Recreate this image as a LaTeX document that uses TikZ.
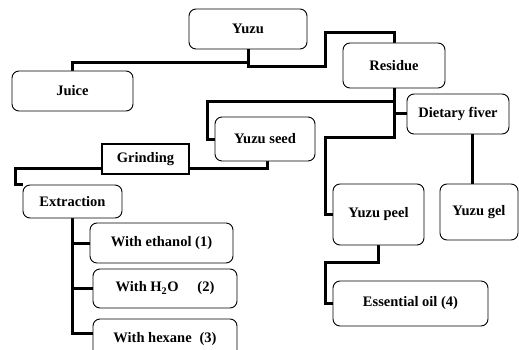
\documentclass[tikz,border=0pt]{standalone}
\usepackage{fontspec}
\setmainfont{Liberation Serif}
\usetikzlibrary{positioning, backgrounds}

\begin{document}
\begin{tikzpicture}[x=1pt, y=-1pt,
  box/.style={draw, rounded corners=7pt, line width=0.9pt, fill=white, inner sep=0pt,
    font=\fontsize{14.5}{17}\selectfont\bfseries},
  link/.style={line width=3pt}]
  \useasboundingbox (0,0) rectangle (519,350);

  % Yuzu and its first products
  \node[box, minimum width=118, minimum height=40] (yuzu) at (248,29) {Yuzu};
  \node[box, minimum width=121, minimum height=40] (juice) at (72.5,91) {Juice};
  \node[box, minimum width=102, minimum height=45] (residue) at (394,65.5) {Residue};
  \node[box, minimum width=102, minimum height=40] (dietary) at (458,114) {Dietary fiver};
  \node[box, minimum width=100, minimum height=44] (seed) at (265,139) {Yuzu seed};

  % Seed treatment
  \node[box, sharp corners, line width=2.5pt, minimum width=87, minimum height=30] (grinding) at (145.5,159) {Grinding};
  \node[box, minimum width=99, minimum height=33] (extraction) at (72.5,201.5) {Extraction};
  \node[box, minimum width=143, minimum height=40] (ethanol) at (161.5,243) {With ethanol (1)};
  \node[box, minimum width=144, minimum height=39] (water) at (165,288.5) {With H\textsubscript{2}O\hspace{1.3em}(2)};
  \node[box, minimum width=144, minimum height=40] (hexane) at (165,339) {With hexane\hspace{0.3em} (3)};

  % Peel and gel
  \node[box, minimum width=91, minimum height=61] (peel) at (378.5,214.5) {Yuzu peel};
  \node[box, minimum width=78, minimum height=56] (gel) at (479,212) {Yuzu gel};
  \node[box, minimum width=155, minimum height=45] (oil) at (410.5,303.5) {Essential oil (4)};

  % Connectors behind the boxes
  \begin{scope}[on background layer]
    \draw[link] (yuzu.south) -- ++(0,13) -| (juice.north);
    \draw[link] (yuzu.south) |- (325,67) |- (394,33) -- (residue.north);
    \draw[link] (residue.south) |- (207,102) |- (seed.west);
    \draw[link] (residue.south) |- (dietary.west);
    \draw[link] (residue.south) |- (325,137) |- (peel.west);
    \draw[link] ([xshift=14pt]dietary.south) -- ([xshift=-7pt]gel.north);
    \draw[link] (peel.south) |- (325,262) |- (oil.west);
    \draw[link] ([xshift=2pt]seed.south) |- (15,168) |- (extraction.north west);
    \draw[link] (extraction.south) |- (ethanol.west);
    \draw[link] (extraction.south) |- (water.west);
    \draw[link] (extraction.south) |- ([yshift=6pt]hexane.west);
  \end{scope}
\end{tikzpicture}
\end{document}
